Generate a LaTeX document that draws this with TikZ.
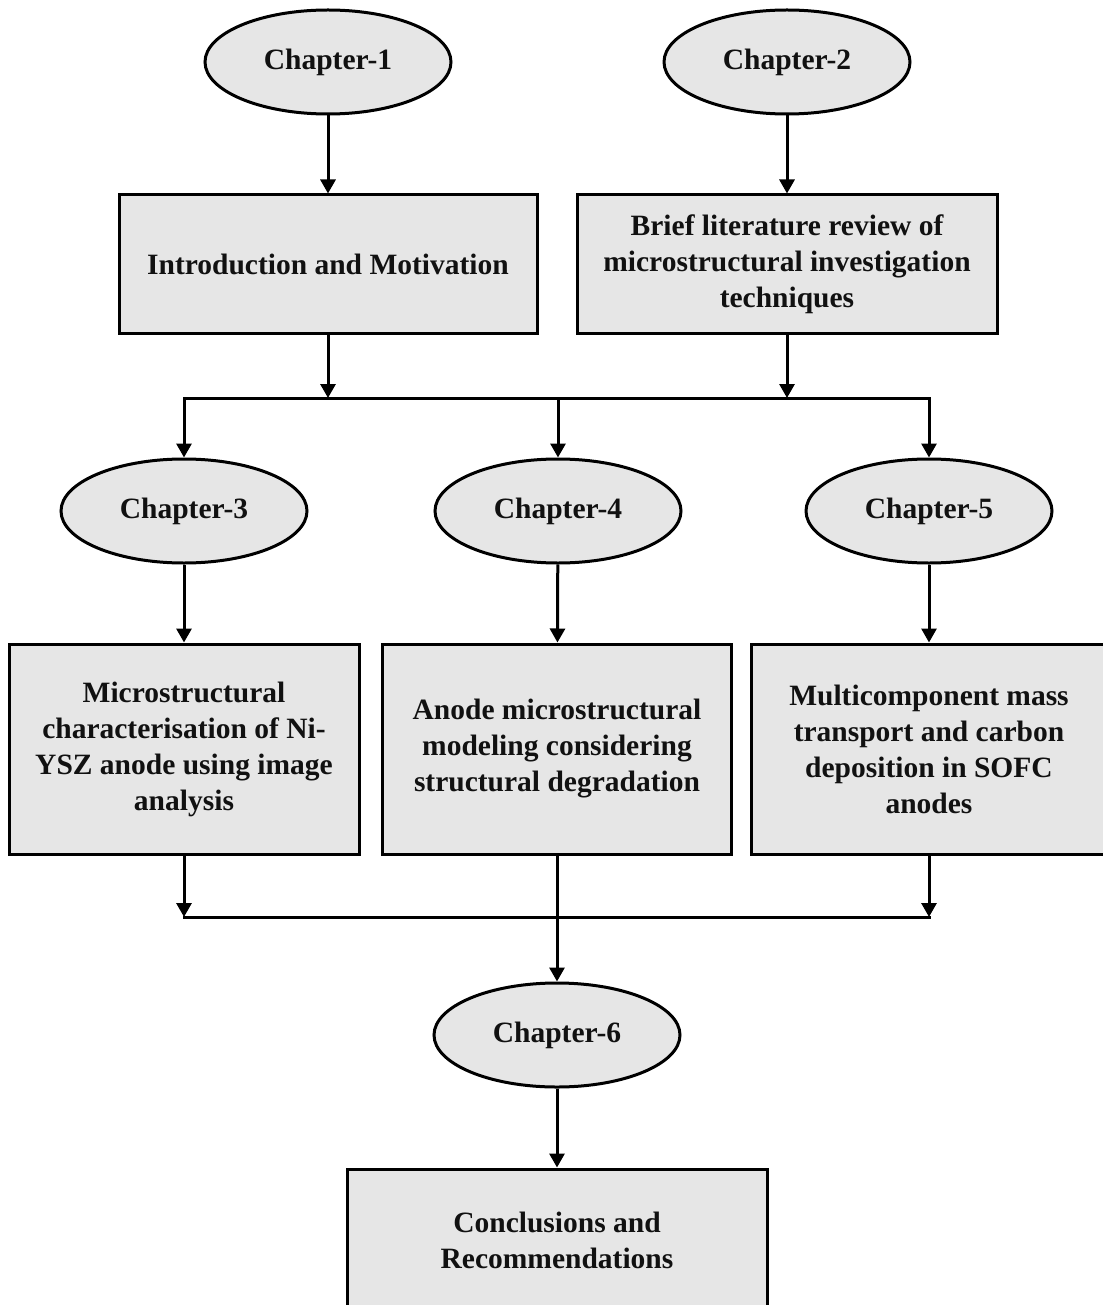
\documentclass[tikz,border=0pt]{standalone}
\usepackage{fontspec}
\setmainfont{Liberation Serif}
\usetikzlibrary{arrows.meta,positioning,shapes.geometric}
\definecolor{cFill}{HTML}{E6E6E6}
\definecolor{cText}{HTML}{111111}

\begin{document}
\begin{tikzpicture}[x=1pt,y=-1pt,
    chapter/.style={ellipse, draw=black, line width=3pt, fill=cFill,
      minimum width=246pt, minimum height=104pt, inner sep=0pt,
      text=cText, font=\fontsize{29.5}{36}\selectfont\bfseries},
    topic/.style={rectangle, draw=black, line width=3pt, fill=cFill,
      align=center, inner sep=0pt, text=cText,
      font=\fontsize{29.5}{36}\selectfont\bfseries},
    link/.style={line width=3pt, line cap=rect},
    arr/.style={line width=3pt, -{Triangle[width=15pt,length=14pt]}}]
  \useasboundingbox (0,0) rectangle (1102,1305);

  % top row
  \node[chapter] (ch1) at (328,62) {Chapter-1};
  \node[chapter] (ch2) at (787,62) {Chapter-2};
  \node[topic, minimum width=418pt, minimum height=138pt] (intro) at (328,264)
      {Introduction and Motivation};
  \node[topic, minimum width=420pt, minimum height=138pt] (review) at (787,264)
      {Brief literature review of\\microstructural investigation\\techniques};
  \draw[arr] (ch1) -- (intro);
  \draw[arr] (ch2) -- (review);

  % split to the middle chapters
  \coordinate (splitL) at (184,398);
  \coordinate (splitR) at (929,398);
  \draw[arr] (intro.south) -- (intro.south |- splitL);
  \draw[arr] (review.south) -- (review.south |- splitL);
  \draw[link] (splitL) -- (splitR);

  % middle row
  \node[chapter] (ch3) at (184,511) {Chapter-3};
  \node[chapter] (ch4) at (558,511) {Chapter-4};
  \node[chapter] (ch5) at (929,511) {Chapter-5};
  \draw[arr] (splitL) -- (ch3);
  \draw[arr] (ch4.north |- splitL) -- (ch4);
  \draw[arr] (splitR) -- (ch5);

  \node[topic, minimum width=350pt, minimum height=210pt] (image) at (184,749)
      {Microstructural\\characterisation of Ni-\\YSZ anode using image\\analysis};
  \node[topic, minimum width=349pt, minimum height=210pt] (model) at (557,749)
      {Anode microstructural\\modeling considering\\structural degradation};
  \node[topic, minimum width=356pt, minimum height=210pt] (carbon) at (929,749)
      {Multicomponent mass\\transport and carbon\\deposition in SOFC\\anodes};
  \draw[arr] (ch3) -- (image);
  \draw[arr] (ch4) -- (model);
  \draw[arr] (ch5) -- (carbon);

  % merge to the last chapter
  \coordinate (mergeL) at (184,917);
  \coordinate (mergeR) at (929,917);
  \draw[arr] (image.south) -- (mergeL);
  \draw[arr] (carbon.south) -- (mergeR);
  \draw[link] (mergeL) -- (mergeR);

  \node[chapter] (ch6) at (557,1035) {Chapter-6};
  \node[topic, minimum width=420pt, minimum height=142pt] (concl) at (557,1240)
      {Conclusions and\\Recommendations};
  \draw[arr] (model) -- (ch6);
  \draw[arr] (ch6) -- (concl);
\end{tikzpicture}
\end{document}
